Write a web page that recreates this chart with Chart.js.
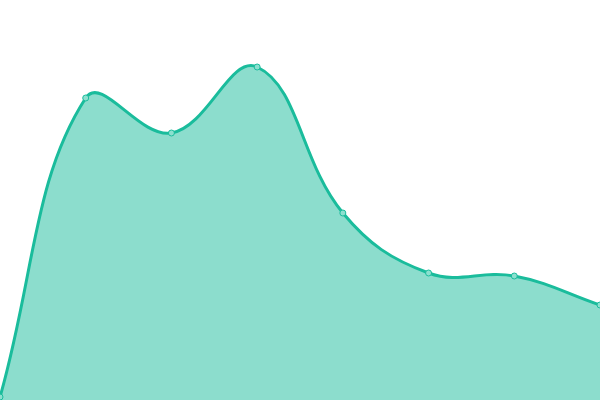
<!DOCTYPE html>
<html>
<head>
<meta charset="utf-8">
<script src="https://cdn.jsdelivr.net/npm/chart.js@4"></script>
<style>
  html, body { margin: 0; padding: 0; background: #fff; }
  #wrap { width: 600px; height: 400px; }
</style>
</head>
<body>
<div id="wrap"><canvas id="chart"></canvas></div>
<script>
// Datos
const labels = ['1', '2', '3', '4', '5', '6', '7', '8'];
const values = [3, 302, 267, 333, 187, 127, 124, 95];

const ctx = document.getElementById('chart').getContext('2d');
const chart = new Chart(ctx, {
    type: 'line',
    data: {
        labels: labels,
        datasets: [{
            data: values,
            fill: true,
            backgroundColor: 'rgba(26, 188, 156, 0.5)',
            borderColor: '#1abc9c',
            borderWidth: 3,
            tension: 0.4,
            pointRadius: 3,
            pointBorderWidth: 1,
            pointBackgroundColor: '#8ce0cf',
            pointBorderColor: '#1abc9c'
        }]
    },
    options: {
        responsive: true,
        maintainAspectRatio: false,
        animation: false,
        layout: { padding: 0, autoPadding: false },
        plugins: { legend: { display: false }, tooltip: { enabled: false } },
        scales: {
            x: { display: false },
            y: { display: false, min: 0, max: 400 }
        }
    }
});
</script>
</body>
</html>
